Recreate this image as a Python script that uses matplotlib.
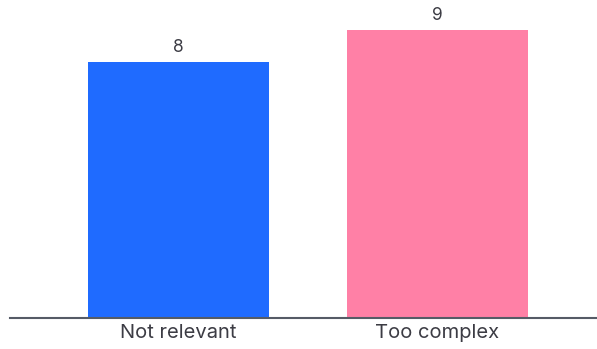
import matplotlib.pyplot as plt

categories = ['Not relevant', 'Too complex']
values = [8, 9]
colors = ['#1f6bff', '#ff80a6']

plt.rcParams['font.family'] = ['Inter', 'DejaVu Sans']

fig = plt.figure(figsize=(5.97, 3.49), dpi=100)
ax = fig.add_axes([10 / 597, 31 / 349, 587 / 597, 318 / 349])

x = range(len(categories))
bars = ax.bar(x, values, width=0.7, color=colors)

# value labels above bars
for b, v in zip(bars, values):
    ax.text(b.get_x() + b.get_width() / 2, v + 0.2, str(v),
            ha='center', va='bottom', fontsize=12.5, color='#3c3c44')

ax.set_xlim(-0.65, 1.616)
ax.set_ylim(0, 318 / 32)
ax.set_xticks(list(x))
ax.set_xticklabels(categories, fontsize=14.5, color='#3c3c44')
ax.tick_params(axis='x', length=0, pad=4)
ax.set_yticks([])

for s in ['top', 'right', 'left']:
    ax.spines[s].set_visible(False)
ax.spines['bottom'].set_color('#555b66')
ax.spines['bottom'].set_linewidth(1.5)

fig.savefig('out.png', dpi=100)
